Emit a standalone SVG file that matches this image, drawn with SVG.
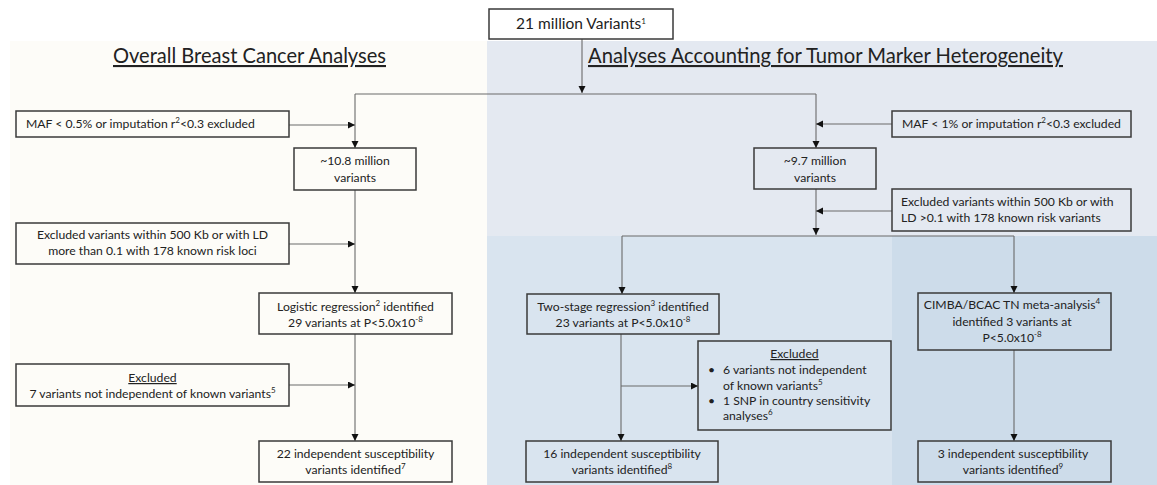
<svg xmlns="http://www.w3.org/2000/svg" width="1157" height="485" viewBox="0 0 1157 485">
<style>
.box{fill:none;stroke:#3a3a3a;stroke-width:1.5}
.conn{fill:none;stroke:#6a6a6a;stroke-width:1.1}
text{font-family:Lato,"Open Sans","Liberation Sans",sans-serif;fill:#222;font-size:12.2px}
.c{text-anchor:middle}
.title{font-size:21px;text-decoration:underline}
.big{font-size:15.5px}
.u{text-decoration:underline}
.sup{font-size:8px}
</style>
<defs>
<marker id="ah" markerUnits="userSpaceOnUse" markerWidth="8" markerHeight="8" refX="7" refY="3.5" orient="auto">
<path d="M0,0 L7,3.5 L0,7 z" fill="#111"/>
</marker>
</defs>
<g id="background">
<rect x="0" y="0" width="1157" height="485" fill="#ffffff"/>
<rect x="10" y="41" width="477" height="444" fill="#fdfcf8"/>
<rect x="487" y="41" width="670" height="196" fill="#e4e9f1"/>
<rect x="487" y="236" width="405" height="249" fill="#d9e4ef"/>
<rect x="892" y="236" width="265" height="249" fill="#cddcea"/>
</g>
<g id="titles">
<text class="title" x="113" y="63" textLength="273" lengthAdjust="spacingAndGlyphs">Overall Breast Cancer Analyses</text>
<text class="title" x="588" y="63" textLength="475" lengthAdjust="spacingAndGlyphs">Analyses Accounting for Tumor Marker Heterogeneity</text>
</g>
<g id="connectors">
<path class="conn" d="M582,39 V93" marker-end="url(#ah)"/>
<path class="conn" d="M355,94 H816"/>
<path class="conn" d="M355,94 V148" marker-end="url(#ah)"/>
<path class="conn" d="M289,125 H355" marker-end="url(#ah)"/>
<path class="conn" d="M816,94 V148" marker-end="url(#ah)"/>
<path class="conn" d="M892,124 H816" marker-end="url(#ah)"/>
<path class="conn" d="M355,190 V293" marker-end="url(#ah)"/>
<path class="conn" d="M289,244 H355" marker-end="url(#ah)"/>
<path class="conn" d="M355,334 V441" marker-end="url(#ah)"/>
<path class="conn" d="M289,385 H355" marker-end="url(#ah)"/>
<path class="conn" d="M816,189 V235" marker-end="url(#ah)"/>
<path class="conn" d="M892,211 H816" marker-end="url(#ah)"/>
<path class="conn" d="M622,236 H1014"/>
<path class="conn" d="M622,236 V294" marker-end="url(#ah)"/>
<path class="conn" d="M1014,236 V293" marker-end="url(#ah)"/>
<path class="conn" d="M621,334 V441" marker-end="url(#ah)"/>
<path class="conn" d="M621,386 H698" marker-end="url(#ah)"/>
<path class="conn" d="M1014,350 V441" marker-end="url(#ah)"/>
</g>
<g id="n-top">
<rect class="box" x="489" y="9" width="184" height="30" fill="#fff"/>
<text class="big c" x="581" y="29">21 million Variants<tspan class="sup" dy="-5">1</tspan></text>
</g>
<g id="n-maf-left">
<rect class="box" x="16" y="111" width="273" height="26"/>
<text x="26" y="128">MAF &lt; 0.5% or imputation r<tspan class="sup" dy="-5">2</tspan><tspan dy="5">&lt;0.3 excluded</tspan></text>
</g>
<g id="n-maf-right">
<rect class="box" x="892" y="111" width="239" height="26"/>
<text x="902" y="128">MAF &lt; 1% or imputation r<tspan class="sup" dy="-5">2</tspan><tspan dy="5">&lt;0.3 excluded</tspan></text>
</g>
<g id="n-108">
<rect class="box" x="294" y="148" width="122" height="42"/>
<text class="c" x="355" y="165">~10.8 million</text>
<text class="c" x="355" y="182">variants</text>
</g>
<g id="n-97">
<rect class="box" x="754" y="148" width="122" height="41"/>
<text class="c" x="815" y="165">~9.7 million</text>
<text class="c" x="815" y="182">variants</text>
</g>
<g id="n-excl-left">
<rect class="box" x="16" y="223" width="273" height="41"/>
<text class="c" x="152.5" y="239">Excluded variants within 500 Kb or with LD</text>
<text class="c" x="152.5" y="255">more than 0.1 with 178 known risk loci</text>
</g>
<g id="n-excl-right">
<rect class="box" x="892" y="189" width="239" height="42"/>
<text x="901" y="206">Excluded variants within 500 Kb or with</text>
<text x="901" y="222">LD &gt;0.1 with 178 known risk variants</text>
</g>
<g id="n-logistic">
<rect class="box" x="259" y="293" width="193" height="41"/>
<text class="c" x="355.5" y="311">Logistic regression<tspan class="sup" dy="-5">2</tspan><tspan dy="5"> identified</tspan></text>
<text class="c" x="355.5" y="327">29 variants at P&lt;5.0x10<tspan class="sup" dy="-5">-8</tspan></text>
</g>
<g id="n-excl7">
<rect class="box" x="16" y="364" width="273" height="42"/>
<text class="c u" x="152.5" y="382">Excluded</text>
<text class="c" x="152.5" y="398">7 variants not independent of known variants<tspan class="sup" dy="-5">5</tspan></text>
</g>
<g id="n-22">
<rect class="box" x="259" y="441" width="193" height="41"/>
<text class="c" x="355.5" y="458">22 independent susceptibility</text>
<text class="c" x="355.5" y="474">variants identified<tspan class="sup" dy="-5">7</tspan></text>
</g>
<g id="n-twostage">
<rect class="box" x="527" y="294" width="192" height="40"/>
<text class="c" x="623" y="311">Two-stage regression<tspan class="sup" dy="-5">3</tspan><tspan dy="5"> identified</tspan></text>
<text class="c" x="623" y="327">23 variants at P&lt;5.0x10<tspan class="sup" dy="-5">-8</tspan></text>
</g>
<g id="n-excl-mid">
<rect class="box" x="698" y="341" width="193" height="89"/>
<text class="c u" x="794.5" y="358">Excluded</text>
<text x="708" y="374">•</text>
<text x="723" y="374">6 variants not independent</text>
<text x="723" y="390">of known variants<tspan class="sup" dy="-5">5</tspan></text>
<text x="708" y="405">•</text>
<text x="723" y="405">1 SNP in country sensitivity</text>
<text x="723" y="420">analyses<tspan class="sup" dy="-5">6</tspan></text>
</g>
<g id="n-16">
<rect class="box" x="526" y="441" width="192" height="41"/>
<text class="c" x="622" y="458">16 independent susceptibility</text>
<text class="c" x="622" y="474">variants identified<tspan class="sup" dy="-5">8</tspan></text>
</g>
<g id="n-cimba">
<rect class="box" x="918" y="293" width="193" height="57"/>
<text class="c" x="1012" y="309">CIMBA/BCAC TN meta-analysis<tspan class="sup" dy="-5">4</tspan></text>
<text class="c" x="1012" y="326">identified 3 variants at</text>
<text class="c" x="1012" y="342">P&lt;5.0x10<tspan class="sup" dy="-5">-8</tspan></text>
</g>
<g id="n-3">
<rect class="box" x="918" y="441" width="193" height="41"/>
<text class="c" x="1013" y="458">3 independent susceptibility</text>
<text class="c" x="1013" y="474">variants identified<tspan class="sup" dy="-5">9</tspan></text>
</g>
</svg>
